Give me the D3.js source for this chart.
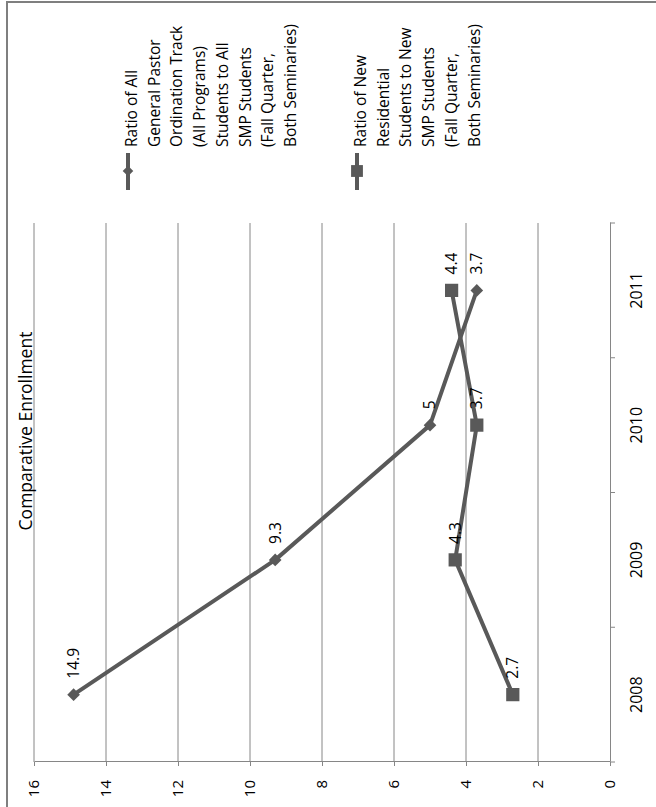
<!DOCTYPE html>
<html>
<head>
<meta charset="utf-8">
<script src="https://cdn.jsdelivr.net/npm/d3@7"></script>
<style>
  body { margin: 0; background: #fff; }
  svg { display: block; }
  text { font-family: "Open Sans", sans-serif; fill: #000; }
</style>
</head>
<body>
<svg id="chart" width="656" height="807"></svg>
<script>
// chart values
const years = ['2008', '2009', '2010', '2011'];
const pastorRatio = [14.9, 9.3, 5, 3.7];
const residentialRatio = [2.7, 4.3, 3.7, 4.4];
const valueTicks = [0, 2, 4, 6, 8, 10, 12, 14, 16];
const chartTitle = 'Comparative Enrollment';
const pastorLegend = ['Ratio of All', 'General Pastor', 'Ordination Track', '(All Programs)',
  'Students to All', 'SMP Students', '(Fall Quarter,', 'Both Seminaries)'];
const residentialLegend = ['Ratio of New', 'Residential', 'Students to New', 'SMP Students',
  '(Fall Quarter,', 'Both Seminaries)'];

const lineColor = '#595959';
const gridColor = '#868686';

// the whole chart is drawn landscape (807 x 656) and turned a quarter left
const svg = d3.select('#chart');
const g = svg.append('g').attr('transform', 'translate(0,807) rotate(-90)');

// outer frame (only top and right edges show)
g.append('rect')
  .attr('x', -20).attr('y', 7)
  .attr('width', 825).attr('height', 720)
  .attr('fill', 'none')
  .attr('stroke', '#7f7f7f')
  .attr('stroke-width', 2);

const plotLeft = 45, plotRight = 584;
const xBand = d3.scaleBand().domain(years).range([plotLeft, plotRight]);
const xPoint = d3.scalePoint().domain(years).range([plotLeft, plotRight]).padding(0.5);
const y = d3.scaleLinear().domain([0, 16]).range([610, 34]);

// horizontal gridlines
g.append('g')
  .selectAll('line')
  .data(valueTicks.filter(v => v > 0))
  .enter().append('line')
  .attr('x1', plotLeft).attr('x2', plotRight)
  .attr('y1', d => y(d)).attr('y2', d => y(d))
  .attr('stroke', gridColor)
  .attr('stroke-width', 1);

// value axis
const yAxis = g.append('g')
  .attr('transform', `translate(${plotLeft},0)`)
  .call(d3.axisLeft(y).tickValues(valueTicks).tickSize(4).tickSizeOuter(0).tickPadding(14));
yAxis.select('.domain').attr('stroke', gridColor);
yAxis.selectAll('.tick line').attr('stroke', gridColor);
yAxis.selectAll('text').style('font-size', '15px').attr('fill', '#000');

// category axis
const xAxis = g.append('g')
  .attr('transform', `translate(0,${y(0)})`)
  .call(d3.axisBottom(xBand).tickSize(0).tickSizeOuter(0).tickPadding(21));
xAxis.select('.domain').attr('stroke', gridColor);
xAxis.selectAll('text').style('font-size', '16px').attr('fill', '#000');

// tick marks between categories
const boundaries = years.map(d => xBand(d)).concat([plotRight]);
g.append('g')
  .selectAll('line')
  .data(boundaries)
  .enter().append('line')
  .attr('x1', d => d).attr('x2', d => d)
  .attr('y1', y(0)).attr('y2', y(0) + 5)
  .attr('stroke', gridColor);

// title
g.append('text')
  .attr('x', 376)
  .attr('y', 32)
  .attr('text-anchor', 'middle')
  .style('font-size', '17.5px')
  .text(chartTitle);

const series = [
  { name: 'pastor', values: pastorRatio, marker: 'diamond', legend: pastorLegend, legendY: 128 },
  { name: 'residential', values: residentialRatio, marker: 'square', legend: residentialLegend, legendY: 357 }
];

const line = d3.line()
  .x((d, i) => xPoint(years[i]))
  .y(d => y(d));

function markerPath(kind, big) {
  if (kind === 'diamond') return d3.symbol(d3.symbolSquare, big ? 80 : 56)();
  return d3.symbol(d3.symbolSquare, big ? 175 : 140)();
}

series.forEach(s => {
  g.append('path')
    .datum(s.values)
    .attr('fill', 'none')
    .attr('stroke', lineColor)
    .attr('stroke-width', 4)
    .attr('stroke-linejoin', 'round')
    .attr('d', line);

  g.selectAll('.marker-' + s.name)
    .data(s.values)
    .enter().append('path')
    .attr('class', 'marker-' + s.name)
    .attr('d', markerPath(s.marker, true))
    .attr('transform', (d, i) => `translate(${xPoint(years[i])},${y(d)})` + (s.marker === 'diamond' ? ' rotate(45)' : ''))
    .attr('fill', lineColor);

  g.selectAll('.label-' + s.name)
    .data(s.values)
    .enter().append('text')
    .attr('class', 'label-' + s.name)
    .attr('x', (d, i) => xPoint(years[i]) + 16)
    .attr('y', d => y(d))
    .attr('dy', '0.35em')
    .style('font-size', '15.5px')
    .text(d => d);

  // legend entry
  const lg = g.append('g');
  lg.append('line')
    .attr('x1', 617).attr('x2', 654)
    .attr('y1', s.legendY).attr('y2', s.legendY)
    .attr('stroke', lineColor)
    .attr('stroke-width', 4);
  lg.append('path')
    .attr('d', markerPath(s.marker, false))
    .attr('transform', `translate(636,${s.legendY})` + (s.marker === 'diamond' ? ' rotate(45)' : ''))
    .attr('fill', lineColor);
  lg.append('text')
    .style('font-size', '15.5px')
    .selectAll('tspan')
    .data(s.legend)
    .enter().append('tspan')
    .attr('x', 660)
    .attr('y', (d, i) => s.legendY + 9 + i * 22.7)
    .text(d => d);
});
</script>
</body>
</html>
